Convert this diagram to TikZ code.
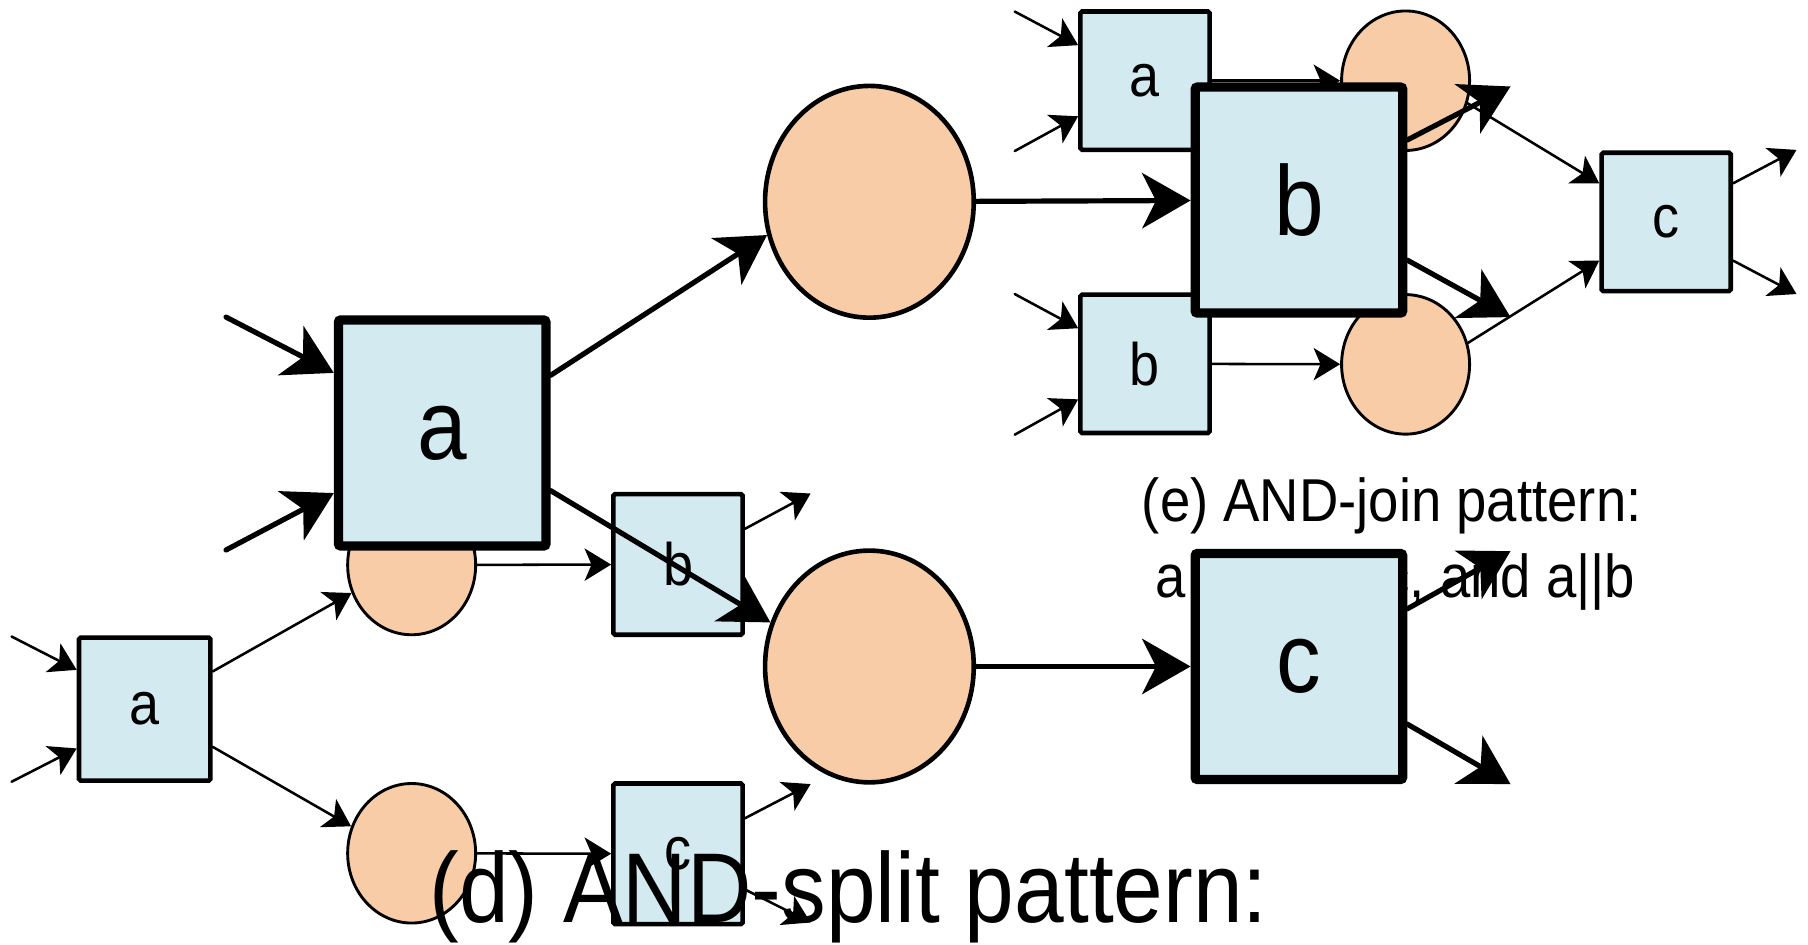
\documentclass[tikz,border=0pt]{standalone}
\usepackage{fontspec}
\setmainfont{Liberation Sans}[FakeStretch=0.9]
\usepackage{tikz}
\usetikzlibrary{shapes.geometric, arrows.meta}
\definecolor{boxfill}{RGB}{210, 234, 240}
\definecolor{placefill}{RGB}{248, 204, 167}
\tikzset{
    smallbox/.style={rectangle, rounded corners=1.5pt, draw=black, fill=boxfill, line width=4pt, minimum width=112pt, minimum height=120pt, inner sep=0pt, font=\fontsize{52}{60}\selectfont},
    bigbox/.style={rectangle, rounded corners=2pt, draw=black, fill=boxfill, line width=8pt, minimum width=180pt, minimum height=196pt, inner sep=0pt, font=\fontsize{86}{100}\selectfont},
    smallplace/.style={ellipse, draw=black, fill=placefill, line width=2.5pt, minimum width=111pt, minimum height=121pt, inner sep=0pt},
    bigplace/.style={ellipse, draw=black, fill=placefill, line width=4pt, minimum width=181pt, minimum height=201pt, inner sep=0pt},
    thinarrow/.style={-{Stealth[length=23pt, width=28pt, inset=6pt]}, line width=2.2pt, line cap=round},
    thickarrow/.style={-{Stealth[length=42pt, width=48pt, inset=12pt]}, line width=4.5pt, line cap=round},
    caption/.style={anchor=base, inner sep=0pt}
}

\begin{document}
\begin{tikzpicture}[x=1pt, y=-1pt]

    \useasboundingbox (0,0) rectangle (1568,819);

    % (d) AND-split, small
    \node (sa)  [smallbox, minimum width=114pt, minimum height=124pt] at (125.5,615) {a};
    \node (sEu) [smallplace] at (357,490) {};
    \node (sEl) [smallplace] at (357,740) {};
    \node (sb)  [smallbox, minimum height=122pt] at (588,489.5) {b};
    \node (sc)  [smallbox, minimum height=122pt] at (588,740.5) {c};

    \coordinate (sin1)   at (10,552);
    \coordinate (sin2)   at (10,678);
    \coordinate (sbout)  at (703,428);
    \coordinate (scout1) at (703,680);
    \coordinate (scout2) at (703,800);

    \draw [thinarrow] (sin1) -- (sa.150);
    \draw [thinarrow] (sin2) -- (sa.210);
    \draw [thinarrow] (sa.29) -- (sEu.205);
    \draw [thinarrow] (sa.331) -- (sEl.156);
    \draw [thinarrow] (sEu) -- (sb);
    \draw [thinarrow] (sEl) -- (sc);
    \draw [thinarrow] (sb.28) -- (sbout);
    \draw [thinarrow] (sc.28) -- (scout1);
    \draw [thinarrow] (sc.332) -- (scout2);

    % (e) AND-join, small
    \node (ja)  [smallbox] at (993,70) {a};
    \node (jb)  [smallbox] at (993,315.5) {b};
    \node (jEu) [smallplace] at (1219,70) {};
    \node (jEl) [smallplace] at (1219,316) {};
    \node (jc)  [smallbox] at (1445,192.5) {c};

    \coordinate (jin1)  at (880,10);
    \coordinate (jin2)  at (880,131);
    \coordinate (jin3)  at (880,255);
    \coordinate (jin4)  at (880,377);
    \coordinate (jout1) at (1558,130);
    \coordinate (jout2) at (1558,255);

    \draw [thinarrow] (jin1) -- (ja.152);
    \draw [thinarrow] (jin2) -- (ja.208);
    \draw [thinarrow] (jin3) -- (jb.152);
    \draw [thinarrow] (jin4) -- (jb.208);
    \draw [thinarrow] (ja) -- (jEu);
    \draw [thinarrow] (jb) -- (jEl);
    \draw [thinarrow] (jEu.340) -- (jc.150);
    \draw [thinarrow] (jEl.19) -- (jc.210);
    \draw [thinarrow] (jc.30) -- (jout1);
    \draw [thinarrow] (jc.330) -- (jout2);

    \node (jcap1) [caption, font=\fontsize{52.5}{60}\selectfont] at (1207,452) {(e) AND-join pattern:};
    \node (jcap2) [caption, font=\fontsize{52.5}{60}\selectfont] at (1210,518) {a→c, b→c, and a||b};

    % big copies
    \node (ba)  [bigbox] at (383.5,375.5) {a};
    \node (bEu) [bigplace] at (754,175) {};
    \node (bEl) [bigplace] at (754,578) {};
    \node (bb)  [bigbox] at (1126.5,173.5) {b};
    \node (bc)  [bigbox] at (1126.5,578) {c};

    \coordinate (bin1)   at (196,275);
    \coordinate (bin2)   at (196,477);
    \coordinate (bbout1) at (1310,75);
    \coordinate (bbout2) at (1310,275);
    \coordinate (bcout1) at (1310,478);
    \coordinate (bcout2) at (1310,680);

    \draw [thickarrow] (bin1) -- (ba.151);
    \draw [thickarrow] (bin2) -- (ba.209);
    \draw [thickarrow] (ba.28) -- (bEu.198);
    \draw [thickarrow] (ba.332) -- (bEl.156);
    \draw [thickarrow] (bEu) -- (bb);
    \draw [thickarrow] (bEl) -- (bc);
    \draw [thickarrow] (bb.29) -- (bbout1);
    \draw [thickarrow] (bb.331) -- (bbout2);
    \draw [thickarrow] (bc.28) -- (bcout1);
    \draw [thickarrow] (bc.332) -- (bcout2);

    \node (scap) [caption, font=\fontsize{86}{100}\selectfont] at (736,800) {(d) AND-split pattern:};

\end{tikzpicture}
\end{document}
